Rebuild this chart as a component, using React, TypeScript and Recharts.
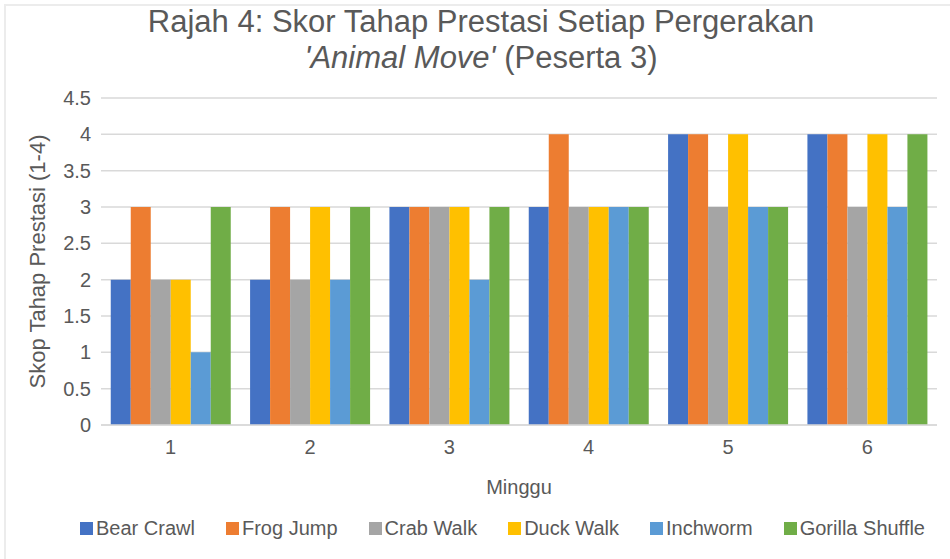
import React from 'react';
import { BarChart, Bar, XAxis, YAxis, CartesianGrid, Legend } from 'recharts';

const weeks = ['1', '2', '3', '4', '5', '6'];
const bearCrawl = [2, 2, 3, 3, 4, 4];
const frogJump = [3, 3, 3, 4, 4, 4];
const crabWalk = [2, 2, 3, 3, 3, 3];
const duckWalk = [2, 3, 3, 3, 4, 4];
const inchworm = [1, 2, 2, 3, 3, 3];
const gorillaShuffle = [3, 3, 3, 3, 3, 4];
const yTicks = [0, 0.5, 1, 1.5, 2, 2.5, 3, 3.5, 4, 4.5];

const series = [
  { key: 'Bear Crawl', values: bearCrawl, color: '#4472C4' },
  { key: 'Frog Jump', values: frogJump, color: '#ED7D31' },
  { key: 'Crab Walk', values: crabWalk, color: '#A5A5A5' },
  { key: 'Duck Walk', values: duckWalk, color: '#FFC000' },
  { key: 'Inchworm', values: inchworm, color: '#5B9BD5' },
  { key: 'Gorilla Shuffle', values: gorillaShuffle, color: '#70AD47' },
];

const data = weeks.map((w, i) => {
  const row: Record<string, any> = { week: w };
  series.forEach((s) => {
    row[s.key] = s.values[i];
  });
  return row;
});

const FONT = '"Liberation Sans", Arial, sans-serif';
const TEXT = '#595959';

const YLabel = (props: any) => {
  const vb = props.viewBox || { x: 0, y: 0, width: 0, height: 0 };
  const cx = vb.x + 37;
  const cy = vb.y + vb.height / 2;
  return (
    <text
      x={cx}
      y={cy}
      transform={`rotate(-90, ${cx}, ${cy})`}
      textAnchor="middle"
      dominantBaseline="central"
      fill={TEXT}
      fontSize={22}
      fontFamily={FONT}
    >
      Skop Tahap Prestasi (1-4)
    </text>
  );
};

const XLabel = (props: any) => {
  const vb = props.viewBox || { x: 0, y: 0, width: 0, height: 0 };
  return (
    <text
      x={vb.x + vb.width / 2}
      y={vb.y + 62}
      textAnchor="middle"
      dominantBaseline="central"
      fill={TEXT}
      fontSize={20}
      fontFamily={FONT}
    >
      Minggu
    </text>
  );
};

const LegendContent = () => {
  return (
    <div
      style={{
        display: 'flex',
        justifyContent: 'center',
        alignItems: 'center',
        gap: 31,
        height: 40,
        paddingLeft: 55,
        fontFamily: FONT,
        fontSize: 20,
        color: TEXT,
      }}
    >
      {series.map((s) => (
        <div key={s.key} style={{ display: 'flex', alignItems: 'center' }}>
          <span style={{ display: 'inline-block', width: 13, height: 13, background: s.color, marginRight: 3 }} />
          <span>{s.key}</span>
        </div>
      ))}
    </div>
  );
};

export default function App() {
  return (
    <div style={{ position: 'absolute', left: 0, top: 0, width: 950, height: 559, background: '#fff' }}>
      <div
        style={{
          position: 'absolute',
          left: 4,
          top: 4,
          right: 0,
          bottom: 0,
          borderTop: '2px solid #ececec',
          borderLeft: '2px solid #ececec',
        }}
      />
      <div
        style={{
          position: 'absolute',
          left: 0,
          top: 4,
          width: 962,
          textAlign: 'center',
          fontFamily: FONT,
          fontSize: 31,
          lineHeight: '36px',
          color: TEXT,
        }}
      >
        <div>Rajah 4: Skor Tahap Prestasi Setiap Pergerakan</div>
        <div>
          <i>'Animal Move'</i> (Peserta 3)
        </div>
      </div>
      <div style={{ position: 'absolute', left: 0, top: 0 }}>
        <BarChart
          width={950}
          height={559}
          data={data}
          margin={{ top: 98, right: 13, left: 0, bottom: 0 }}
          barCategoryGap="7%"
          barGap={0}
        >
          <CartesianGrid vertical={false} stroke="#D9D9D9" strokeWidth={1.5} />
          <XAxis
            dataKey="week"
            height={94}
            tickLine={false}
            tickSize={0}
            tickMargin={15}
            axisLine={{ stroke: '#D9D9D9', strokeWidth: 1.5 }}
            tick={{ fill: TEXT, fontSize: 20, fontFamily: FONT }}
            label={<XLabel />}
          />
          <YAxis
            width={101}
            domain={[0, 4.5]}
            ticks={yTicks}
            interval={0}
            tickLine={false}
            tickSize={0}
            tickMargin={10}
            axisLine={false}
            tick={{ fill: TEXT, fontSize: 20, fontFamily: FONT }}
            label={<YLabel />}
          />
          <Legend
            verticalAlign="bottom"
            content={<LegendContent />}
            wrapperStyle={{ top: 508, left: 0, width: 950, height: 40 }}
          />
          {series.map((s) => (
            <Bar key={s.key} dataKey={s.key} fill={s.color} isAnimationActive={false} />
          ))}
        </BarChart>
      </div>
    </div>
  );
}
